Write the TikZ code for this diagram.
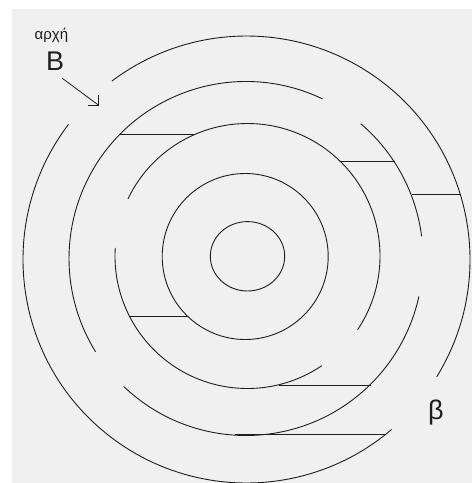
\documentclass[tikz,border=0pt]{standalone}
\usepackage{fontspec}
\setmainfont{Liberation Sans}
\definecolor{bg}{HTML}{F0F0F0}
\definecolor{ink}{HTML}{1E1E1E}
\begin{document}
\begin{tikzpicture}[x=1pt,y=1pt,
  ring/.style={draw=ink, line width=0.9pt},
  link/.style={draw=ink, line width=0.9pt},
  lbl/.style={inner sep=0pt, anchor=base west, text=ink}]
\useasboundingbox (0,0) rectangle (472,-483);
\fill[white] (0,0) rectangle (472,-483);
\fill[bg] (12,-9) rectangle (472,-483);
% centres
\coordinate (c1) at (247.5,-256.3);
\coordinate (c2) at (245.2,-256.5);
\coordinate (c3) at (247.5,-256);
\coordinate (c4) at (246,-258.5);
\coordinate (c5) at (246.5,-259.5);
% ring 1 and 2 (closed)
\draw[ring] (c1) ellipse [x radius=37.2, y radius=34.7];
\draw[ring] (c2) circle [radius=83];
% ring 3
\draw[ring] (c3) ++(-33.8:132.5) arc[start angle=-33.8, end angle=154.5, radius=132.5];
\draw[ring] (c3) ++(176.5:132.5) arc[start angle=176.5, end angle=304.1, radius=132.5];
% ring 4
\draw[ring] (c4) ++(64.4:177) arc[start angle=64.4, end angle=211.8, radius=177];
\draw[ring] (c4) ++(226.3:177) arc[start angle=226.3, end angle=347.6, radius=177];
\draw[ring] (c4) ++(7.2:177) arc[start angle=7.2, end angle=49.6, radius=177];
% ring 5
\draw[ring] (c5) ++(-31.7:223.5) arc[start angle=-31.7, end angle=127, radius=223.5];
\draw[ring] (c5) ++(142.8:223.5) arc[start angle=142.8, end angle=310.5, radius=223.5];
% connectors
\coordinate (a1) at (119.9,-134.3); \coordinate (a2) at (195.1,-134.3);
\coordinate (b1) at (339.9,-161);   \coordinate (b2) at (394.5,-161);
\coordinate (d1) at (411.5,-194);   \coordinate (d2) at (460.5,-194);
\coordinate (e1) at (129.6,-316.5); \coordinate (e2) at (187.9,-316.5);
\coordinate (f1) at (279,-385);     \coordinate (f2) at (371,-385);
\coordinate (g1) at (235,-434.5);   \coordinate (g2) at (385.5,-434.5);
\draw[link] (a1) -- (a2);
\draw[link] (b1) -- (b2);
\draw[link] (d1) -- (d2);
\draw[link] (e1) -- (e2);
\draw[link] (f1) -- (f2);
\draw[link] (g1) -- (g2);
% labels
\node[lbl, font=\fontsize{15}{15}\selectfont] (arche) at (34.5,-39) {αρχή};
\node[lbl, font=\fontsize{27}{27}\selectfont] (B) at (46,-70) {B};
\node[lbl, font=\fontsize{27}{27}\selectfont] (beta) at (428,-419) {β};
% arrow
\coordinate (arrS) at (62.3,-78.3);
\coordinate (arrT) at (98.3,-105);
\draw[link, line width=0.8pt] (arrS) -- (arrT);
\draw[link, line width=0.8pt] ([xshift=-10pt]arrT) -- (arrT) -- ([yshift=10pt]arrT);
\end{tikzpicture}
\end{document}
